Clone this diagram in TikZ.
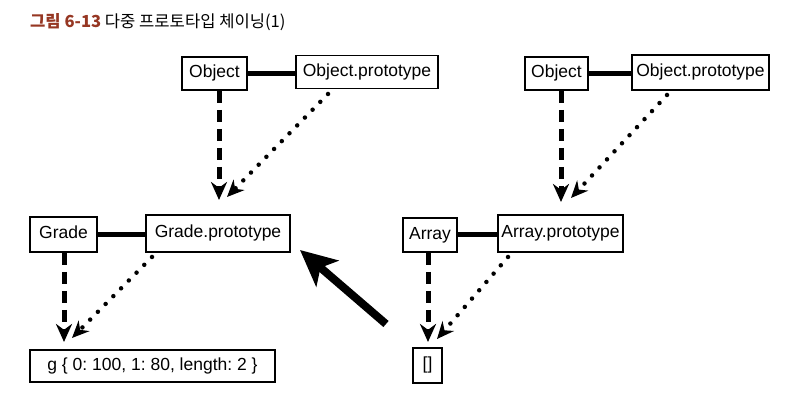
\documentclass[tikz,border=0pt]{standalone}
\usepackage{fontspec}
\setmainfont{Liberation Sans}
\newfontfamily\krfont{Noto Sans CJK KR}
\usetikzlibrary{arrows.meta}
\definecolor{titlered}{RGB}{150,55,35}
\begin{document}
\begin{tikzpicture}[x=1pt,y=-1pt,
  box/.style={draw, line width=1.4pt, inner sep=0pt, align=center,
    font=\fontsize{17.5}{20}\selectfont, text height=13pt, text depth=4pt},
  link/.style={line width=5pt},
  inh/.style={line width=5pt, dash pattern=on 12pt off 7pt,
    -{Stealth[length=18pt,width=16pt]}},
  proto/.style={line width=4.5pt, line cap=round, dash pattern=on 0pt off 11pt,
    -{Stealth[length=17pt,width=15pt]}},
  big/.style={line width=8pt, -{Stealth[length=36pt,width=34pt,inset=9pt]}}
]
\useasboundingbox (0,0) rectangle (788,414);

% title
\node[anchor=base west, inner sep=0pt, font=\krfont\fontsize{16.6}{18}\selectfont] (title) at (30,28)
  {{\bfseries\color{titlered}그림 6-13} 다중 프로토타입 체이닝(1)};

% left group
\node[box, minimum width=65pt, minimum height=33pt] (O1) at (214.5,73.5) {Object};
\node[box, minimum width=142pt, minimum height=33pt] (OP1) at (367,72) {Object.prototype};
\node[box, minimum width=67pt, minimum height=35pt] (G) at (63.5,234.5) {Grade};
\node[box, minimum width=144pt, minimum height=37pt] (GP) at (218,233.5) {Grade.prototype};
\node[box, minimum width=245pt, minimum height=32pt] (g) at (152.5,366) {g \{ 0:\ 100, 1:\ 80, length:\ 2 \}};

% right group
\node[box, minimum width=63pt, minimum height=33pt] (O2) at (556.5,73.5) {Object};
\node[box, minimum width=137pt, minimum height=35pt] (OP2) at (700.5,72.5) {Object.prototype};
\node[box, minimum width=54pt, minimum height=34pt] (A) at (430,235) {Array};
\node[box, minimum width=125pt, minimum height=37pt] (AP) at (560.5,233.5) {Array.prototype};
\node[box, minimum width=29pt, minimum height=35pt] (E) at (427.5,365.5) {[]};

% links
\draw[link] (O1.east) -- (OP1.west |- O1.east);
\draw[link] (G.east) -- (GP.west |- G.east);
\draw[link] (O2.east) -- (OP2.west |- O2.east);
\draw[link] (A.east) -- (AP.west |- A.east);

% constructor (dashed) arrows
\coordinate (t1) at (219,200);
\coordinate (t2) at (64,342);
\coordinate (t3) at (428,342);
\coordinate (t4) at (561,202);
\draw[inh] (219,91) -- (t1);
\draw[inh] (64,253) -- (t2);
\draw[inh] (428,253) -- (t3);
\draw[inh] (561,91) -- (t4);

% prototype (dotted) arrows
\coordinate (s1) at (328,94);
\coordinate (e1) at (227,197);
\coordinate (s2) at (152,257);
\coordinate (e2) at (72,338);
\coordinate (s3) at (508,257);
\coordinate (e3) at (437,339);
\coordinate (s4) at (667,95);
\coordinate (e4) at (571,198);
\draw[proto] (s1) -- (e1);
\draw[proto] (s2) -- (e2);
\draw[proto] (s3) -- (e3);
\draw[proto] (s4) -- (e4);

% big arrow
\coordinate (bs) at (386,324);
\coordinate (be) at (300,250);
\draw[big] (bs) -- (be);
\end{tikzpicture}
\end{document}
